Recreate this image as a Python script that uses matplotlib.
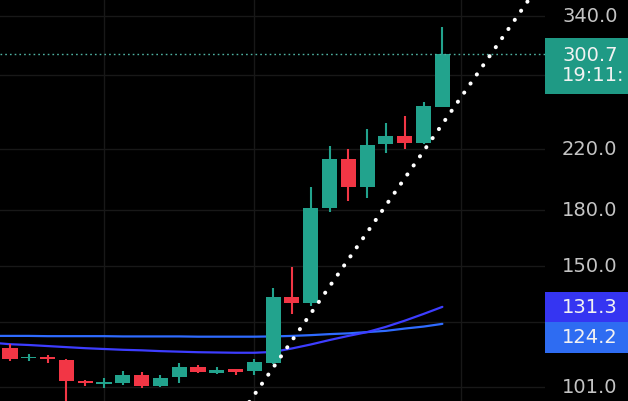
import numpy as np
import matplotlib
matplotlib.use('Agg')
import matplotlib.pyplot as plt
from matplotlib.transforms import blended_transform_factory
from matplotlib.patches import Rectangle

# ---- data ----
opens  = [114.7, 111.0, 111.6, 110.3, 103.0, 102.0, 102.3, 105.0, 101.4, 104.4, 107.7, 105.8,
          107.0, 106.5, 109.3, 135.4, 132.8, 181.6, 213.3, 194.1, 223.5, 229.8, 224.2, 252.8]
closes = [110.7, 111.6, 110.6, 102.9, 102.3, 102.7, 104.9, 101.3, 104.2, 107.7, 106.0, 106.8,
          106.2, 109.7, 135.7, 132.8, 181.6, 213.3, 194.1, 222.9, 229.8, 224.7, 253.3, 300.7]
highs  = [116.2, 112.5, 112.1, 110.7, 103.2, 103.9, 106.5, 106.2, 105.0, 109.1, 108.5, 107.9,
          107.1, 110.6, 139.8, 149.4, 194.1, 222.2, 219.8, 234.7, 239.8, 245.1, 256.9, 327.7]
lows   = [110.0, 110.0, 109.3, 95.0, 101.4, 100.6, 101.7, 100.6, 101.1, 102.4, 105.6, 105.4,
          105.0, 105.0, 108.9, 128.3, 131.8, 179.2, 185.6, 187.2, 217.0, 220.0, 223.7, 252.3]

# moving averages, bar index -1 .. 23
ma_violet = [116.8, 116.2, 115.9, 115.5, 115.1, 114.7, 114.4, 114.1, 113.9, 113.6, 113.4, 113.2,
             113.1, 113.0, 113.0, 113.3, 114.6, 116.1, 117.8, 119.4, 120.9, 123.0, 125.5, 128.3, 131.3]
ma_blue   = [119.4, 119.4, 119.4, 119.3, 119.3, 119.3, 119.3, 119.2, 119.2, 119.2, 119.2, 119.1,
             119.1, 119.1, 119.1, 119.2, 119.4, 119.7, 120.1, 120.4, 120.9, 121.4, 122.3, 123.1, 124.2]

last_price = 300.7
countdown = "19:11:"

tick_values = [101, 125, 150, 180, 220, 280, 340]
tick_labels = ["101.0", "", "150.0", "180.0", "220.0", "", "340.0"]
vgrid_bars = [5, 13, 24]

trend_x = [13.72, 22.34]
trend_y = [105.0, 225.2]

# ---- styling ----
UP = '#22a38d'
DOWN = '#f23645'
BG = '#000000'
GRID = '#181818'
TXT = '#c4c4c4'
VIOLET = '#3d3dff'
BLUE = '#2f6bff'

W, H = 628, 401
fig = plt.figure(figsize=(W / 100, H / 100), dpi=100, facecolor=BG)
ax = fig.add_axes([0, 0, 545 / W, 1])
ax.set_facecolor(BG)
ax.set_yscale('log')
ax.set_xlim(-0.532, 28.46)
ax.set_ylim(96.5, 358.3)

for s in ax.spines.values():
    s.set_visible(False)
ax.set_yticks(tick_values)
ax.set_yticks([], minor=True)
ax.set_xticks(vgrid_bars)
ax.tick_params(left=False, bottom=False, labelleft=False, labelbottom=False, which='both')
ax.grid(True, color=GRID, lw=1.0)
ax.set_axisbelow(True)

n = len(opens)
x = np.arange(n)
o = np.array(opens); c = np.array(closes); h = np.array(highs); l = np.array(lows)
cols = [UP if cc >= oo else DOWN for oo, cc in zip(o, c)]

# moving averages (behind candles)
xm = np.arange(-1, n)
ax.plot(xm, ma_blue, color=BLUE, lw=1.6, zorder=2, solid_capstyle='round')
ax.plot(xm, ma_violet, color=VIOLET, lw=1.6, zorder=2, solid_capstyle='round')

ax.vlines(x, l, h, colors=cols, lw=1.5, zorder=3)
bottoms = np.minimum(o, c)
heights = np.maximum(np.abs(c - o), 0.4)
ax.bar(x, heights, bottom=bottoms, width=0.8, color=cols, zorder=4, linewidth=0)

# last price dotted line
ax.axhline(last_price, color='#4fb3a3', lw=1.0, ls=(0, (1.2, 2.2)), zorder=5)

# dotted trend line (straight in log space)
slope = (np.log(trend_y[1]) - np.log(trend_y[0])) / (trend_x[1] - trend_x[0])
tx = np.array([11.5, 29.0])
ty = np.exp(np.log(trend_y[0]) + slope * (tx - trend_x[0]))
ax.plot(tx, ty, color='white', lw=2.9, ls=(0, (0.05, 2.7)), dash_capstyle='round', zorder=6)

# ---- price scale ----
fig.canvas.draw()
trans = blended_transform_factory(fig.transFigure, ax.transData)
lx = 562 / W
for v, lab in zip(tick_values, tick_labels):
    if lab:
        ax.text(lx, v, lab, transform=trans, color=TXT, fontsize=14, ha='left', va='center',
                clip_on=False, family='DejaVu Sans')

def disp_y(v):
    return ax.transData.transform((0, v))[1]

def box(y0, y1, color):
    fig.patches.append(Rectangle((545 / W, y0 / H), 1 - 545 / W, (y1 - y0) / H,
                                 transform=fig.transFigure, facecolor=color, edgecolor='none', zorder=10))

# last price box
py = disp_y(last_price)
box(py - 40.5, py + 15.8, '#1f9a85')
fig.text(lx, (py - 1.5) / H, f"{last_price:.1f}", color='#f2f2f2', fontsize=14, ha='left', va='center', zorder=11)
fig.text(lx, (py - 22) / H, countdown, color='#f2f2f2', fontsize=14, ha='left', va='center', zorder=11)

# MA boxes
vy = disp_y(ma_violet[-1])
box(vy - 15.5, vy + 15.3, '#3535f2')
fig.text(lx, (vy - 1) / H, f"{ma_violet[-1]:.1f}", color='#f2f2f2', fontsize=14, ha='left', va='center', zorder=11)
box(vy - 46.1, vy - 15.5, '#2e6cf2')
fig.text(lx, (vy - 31) / H, f"{ma_blue[-1]:.1f}", color='#f2f2f2', fontsize=14, ha='left', va='center', zorder=11)

fig.savefig('out.png', dpi=100, facecolor=BG)
